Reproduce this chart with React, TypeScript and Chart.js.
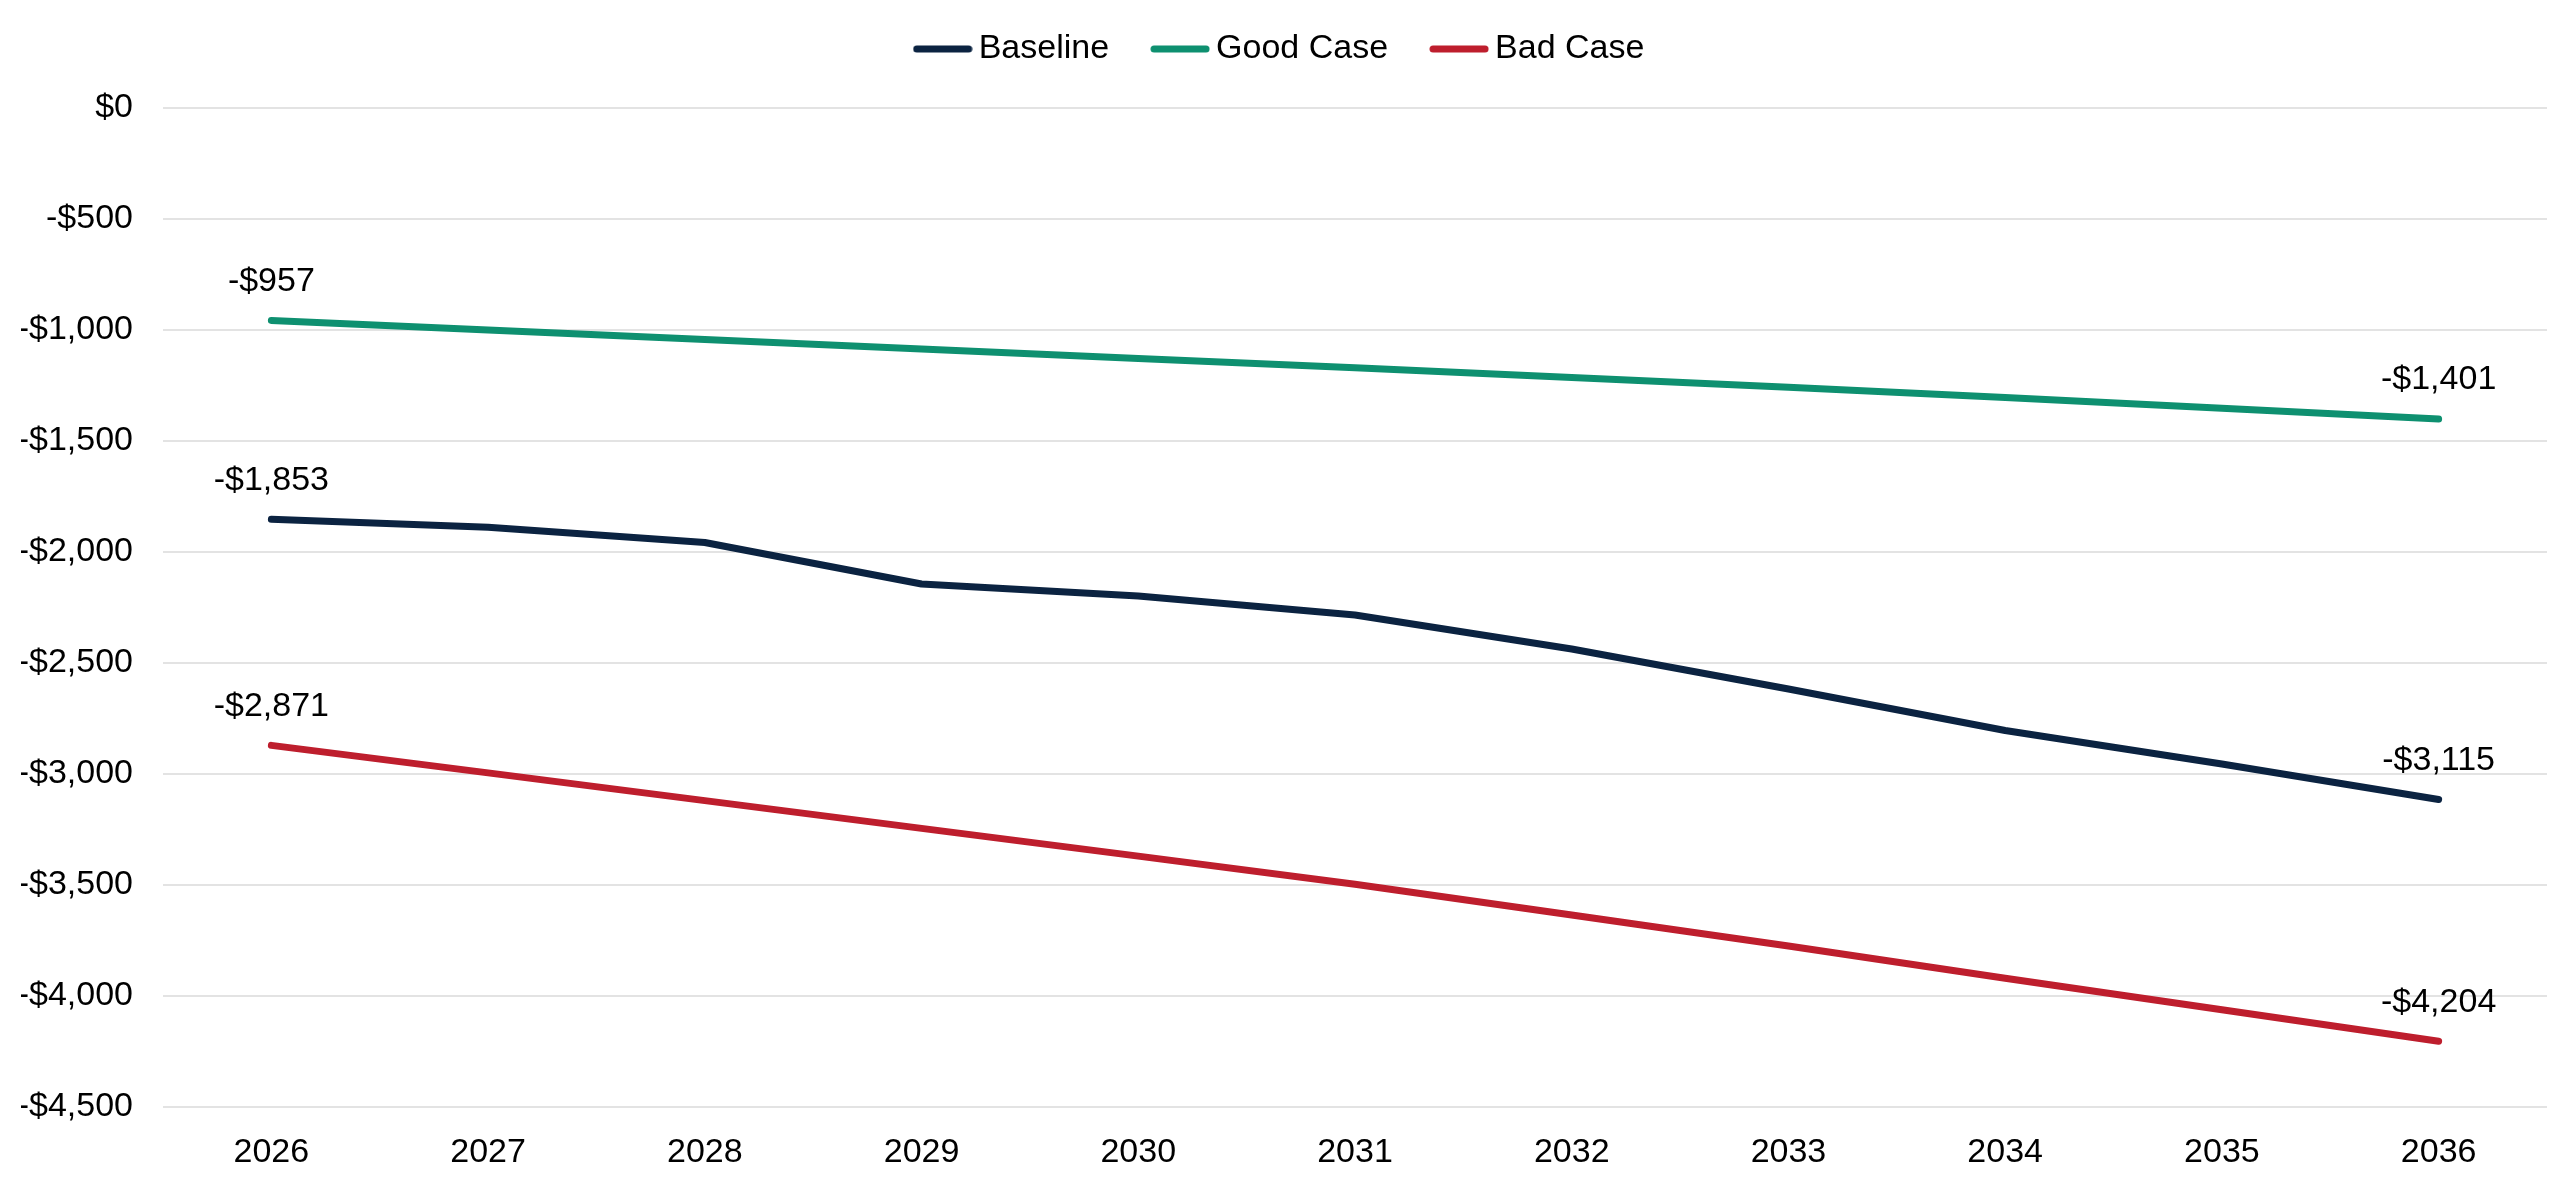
import { useEffect, useRef } from 'react';
import { Chart, registerables } from 'chart.js';

Chart.register(...registerables);

const years = ['2026', '2027', '2028', '2029', '2030', '2031', '2032', '2033', '2034', '2035', '2036'];
const baseline = [-1853, -1888, -1957, -2144, -2198, -2284, -2437, -2617, -2804, -2955, -3115];
const goodCase = [-957, -1000, -1043, -1086, -1128, -1170, -1214, -1258, -1304, -1352, -1401];
const badCase = [-2871, -2995, -3120, -3245, -3370, -3497, -3635, -3775, -3920, -4062, -4204];

const FONT = '"Liberation Sans", Arial, sans-serif';
const SIZE = 34;

const money = (v: number) => (v === 0 ? '$0' : (v < 0 ? '-$' : '$') + Math.abs(v).toLocaleString('en-US'));

// legend marker: short rounded line, a little wider than the legend box
const marker = (color: string) => {
  const c = document.createElement('canvas');
  c.width = 60;
  c.height = 10;
  const g = c.getContext('2d')!;
  g.strokeStyle = color;
  g.lineWidth = 7;
  g.lineCap = 'round';
  g.beginPath();
  g.moveTo(4, 5);
  g.lineTo(56, 5);
  g.stroke();
  return c;
};

// first and last value of each line, written above the point
const endLabels = {
  id: 'endLabels',
  afterDatasetsDraw(chart: Chart) {
    const { ctx } = chart;
    ctx.save();
    ctx.font = `${SIZE}px ${FONT}`;
    ctx.fillStyle = '#000';
    ctx.textAlign = 'center';
    ctx.textBaseline = 'middle';
    chart.data.datasets.forEach((ds, i) => {
      const meta = chart.getDatasetMeta(i);
      [0, meta.data.length - 1].forEach((j) => {
        const pt = meta.data[j];
        ctx.fillText(money(ds.data[j] as number), pt.x, pt.y - 39);
      });
    });
    ctx.restore();
  },
};

// push the plot down a bit below the legend
const legendGap = {
  id: 'legendGap',
  beforeInit(chart: any) {
    const fit = chart.legend.fit;
    chart.legend.fit = function () {
      fit.bind(chart.legend)();
      this.height += 32;
    };
  },
};

export default function App() {
  const canvasRef = useRef<HTMLCanvasElement>(null);
  const chartRef = useRef<Chart | null>(null);

  useEffect(() => {
    if (!canvasRef.current) return;
    document.body.style.margin = '0';
    if (chartRef.current) chartRef.current.destroy();

    const line = (label: string, data: number[], color: string) => ({
      label,
      data,
      borderColor: color,
      backgroundColor: color,
      borderWidth: 7,
      borderCapStyle: 'round' as const,
      borderJoinStyle: 'round' as const,
      pointRadius: 0,
      pointStyle: marker(color),
      tension: 0,
    });

    chartRef.current = new Chart(canvasRef.current, {
      type: 'line',
      data: {
        labels: years,
        datasets: [
          line('Baseline', baseline, '#0B2341'),
          line('Good Case', goodCase, '#0E9070'),
          line('Bad Case', badCase, '#BE1E2D'),
        ],
      },
      options: {
        responsive: true,
        maintainAspectRatio: false,
        animation: false,
        layout: { padding: { top: -20, left: 21, right: 18, bottom: 15 } },
        plugins: {
          legend: {
            position: 'top',
            labels: {
              usePointStyle: true,
              pointStyleWidth: 38,
              boxHeight: SIZE,
              padding: 52,
              color: '#000',
              font: { family: FONT, size: SIZE },
            },
          },
          tooltip: { enabled: false },
        },
        scales: {
          x: {
            offset: true,
            grid: { display: false },
            border: { display: false },
            ticks: { color: '#000', padding: 17, font: { family: FONT, size: SIZE } },
            afterFit: (scale) => { scale.height = 62; },
          },
          y: {
            min: -4500,
            max: 0,
            grid: { color: '#E3E3E3', lineWidth: 2, drawTicks: false },
            border: { display: false },
            ticks: {
              stepSize: 500,
              color: '#000',
              padding: 30,
              font: { family: FONT, size: SIZE },
              callback: (v) => money(Number(v)),
            },
            afterFit: (scale) => { scale.width = 142; },
          },
        },
      },
      plugins: [endLabels, legendGap],
    });

    return () => { if (chartRef.current) chartRef.current.destroy(); };
  }, []);

  return (
    <div style={{ width: 2565, height: 1184, position: 'relative' }}>
      <canvas ref={canvasRef} />
    </div>
  );
}
